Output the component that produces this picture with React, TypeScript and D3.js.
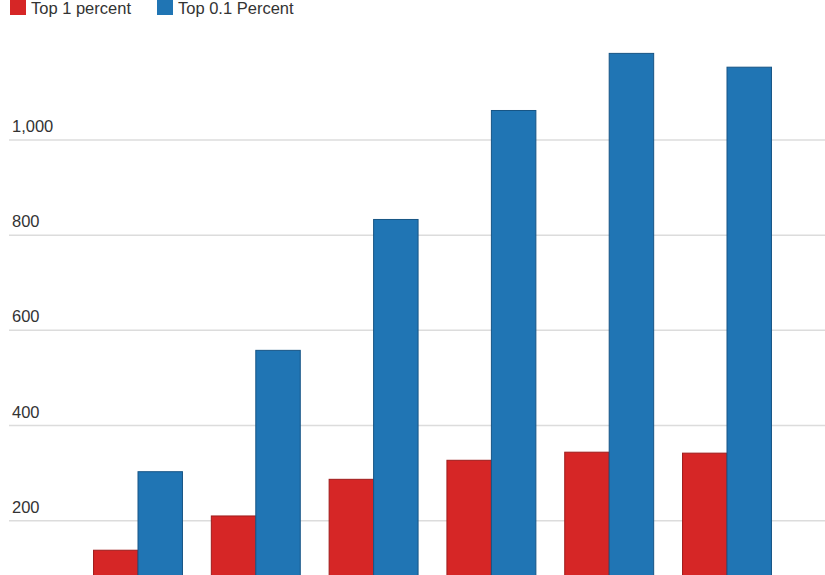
import React, { useEffect, useRef } from "react"
import * as d3 from "d3"

const categories = ["1", "2", "3", "4", "5", "6"]
const seriesNames = ["Top 1 percent", "Top 0.1 Percent"]
const topOne = [138, 210, 287, 327, 344, 342]
const topPointOne = [303, 558, 833, 1062, 1182, 1153]
const tickValues = [200, 400, 600, 800, 1000]

const colors = ["#d62626", "#2075b4"]
const strokes = ["#9e1c1c", "#175585"]

const App = () => {
    const ref = useRef<SVGSVGElement | null>(null)

    const width = 825
    const height = 575

    useEffect(() => {
        drawChart()
    }, [])

    function drawChart() {
        const svg = d3.select(ref.current)
        svg.selectAll("*").remove()

        // baseline sits below the visible area, so the bars run off the bottom
        const y = d3.scaleLinear().domain([0, 1000]).range([615.9, 140])

        const x = d3
            .scaleBand()
            .domain(categories)
            .range([79.1, 785.9])
            .paddingInner(0.245)
            .paddingOuter(0.1225)

        const sub = d3
            .scaleBand()
            .domain(seriesNames)
            .range([0, x.bandwidth()])

        const font = "'Liberation Sans', Arial, Helvetica, sans-serif"

        // gridlines + labels, running to the right edge
        const grid = svg.append("g")
        grid
            .selectAll("line")
            .data(tickValues)
            .enter()
            .append("line")
            .attr("x1", 9)
            .attr("x2", width + 10)
            .attr("y1", (d) => y(d))
            .attr("y2", (d) => y(d))
            .style("stroke", "#dcdcdc")
            .style("stroke-width", 1.5)
        grid
            .selectAll("text")
            .data(tickValues)
            .enter()
            .append("text")
            .attr("x", 12)
            .attr("y", (d) => y(d) - 8)
            .text((d) => d3.format(",")(d))
            .style("font-family", font)
            .style("font-size", "16.5px")
            .style("fill", "#333")

        // bars
        const series = [topOne, topPointOne]
        const groups = svg
            .selectAll(".grp")
            .data(categories)
            .enter()
            .append("g")
            .attr("transform", (d) => `translate(${x(d)},0)`)

        series.forEach((vals, s) => {
            groups
                .append("rect")
                .attr("x", sub(seriesNames[s]) as number)
                .attr("width", sub.bandwidth())
                .attr("y", (_, i) => y(vals[i]))
                .attr("height", (_, i) => y(0) - y(vals[i]))
                .style("fill", colors[s])
                .style("stroke", strokes[s])
                .style("stroke-width", 1)
        })

        // legend
        const legendX = [10, 157]
        const legend = svg
            .selectAll(".leg")
            .data(seriesNames)
            .enter()
            .append("g")
            .attr("transform", (_, i) => `translate(${legendX[i]},0)`)
        legend
            .append("rect")
            .attr("x", 0)
            .attr("y", -1)
            .attr("width", 16)
            .attr("height", 16)
            .style("fill", (_, i) => colors[i])
        legend
            .append("text")
            .attr("x", 21)
            .attr("y", 14)
            .text((d) => d)
            .style("font-family", font)
            .style("font-size", "16.5px")
            .style("fill", "#333")
    }

    return (
        <div style={{ position: "fixed", left: 0, top: 0, width, height, overflow: "hidden", background: "#fff" }}>
            <svg ref={ref} width={width} height={height} style={{ display: "block" }} />
        </div>
    )
}

export default App
